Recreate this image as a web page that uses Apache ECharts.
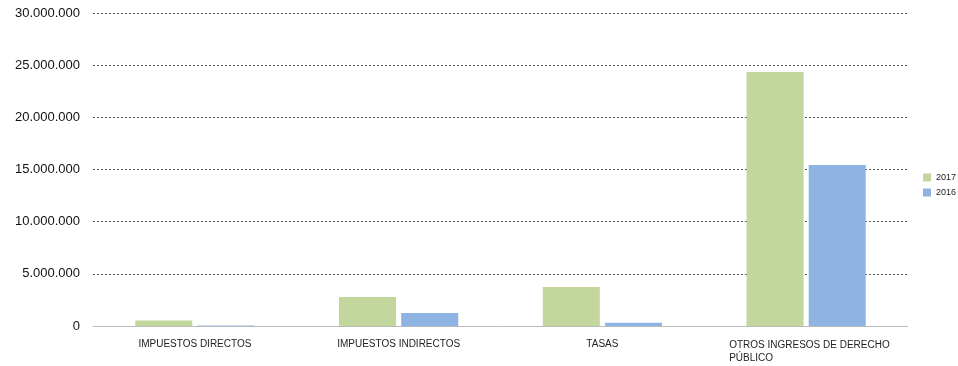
<!DOCTYPE html>
<html>
<head>
<meta charset="utf-8">
<script src="https://cdn.jsdelivr.net/npm/echarts@6/dist/echarts.min.js"></script>
<style>
  html, body { margin: 0; padding: 0; background: #fff; }
  #chart { width: 958px; height: 366px; }
</style>
</head>
<body>
<div id="chart"></div>
<script>
// categorias y valores
const categories = ['IMPUESTOS DIRECTOS', 'IMPUESTOS INDIRECTOS', 'TASAS', 'OTROS INGRESOS DE DERECHO PÚBLICO']
const values2017 = [520000, 2780000, 3740000, 24350000]
const values2016 = [50000, 1250000, 300000, 15440000]
const yTicks = [0, 5000000, 10000000, 15000000, 20000000, 25000000, 30000000]

const myChart = echarts.init(document.getElementById('chart'))

function fmt(val) {
  return String(val).replace(/\B(?=(\d{3})+(?!\d))/g, '.')
}

const option = {
  animation: false,
  textStyle: { fontFamily: 'Liberation Sans, Arial, sans-serif' },
  color: ['#C3D69B', '#8EB4E3'],
  legend: {
    orient: 'vertical',
    left: 918,
    top: 168,
    icon: 'rect',
    itemWidth: 8,
    itemHeight: 8,
    itemGap: 6,
    textStyle: { fontSize: 9, color: '#222' },
    data: ['2017', '2016']
  },
  grid: {
    left: 93,
    right: 50,
    top: 13,
    bottom: 40
  },
  xAxis: {
    type: 'category',
    data: categories,
    axisLine: { lineStyle: { color: '#bbb' } },
    axisTick: { length: 5, lineStyle: { color: '#bbb' } },
    axisLabel: {
      color: '#222',
      fontSize: 10,
      margin: 13,
      interval: 0,
      formatter(val) {
        if (val.length > 25) {
          return '{a|OTROS INGRESOS DE DERECHO}\n{a|PÚBLICO}'
        }
        return val
      },
      rich: {
        a: { width: 154, align: 'left', fontSize: 10, color: '#222', lineHeight: 13 }
      }
    }
  },
  yAxis: {
    type: 'value',
    min: 0,
    max: 30000000,
    interval: 5000000,
    axisLine: { show: false },
    axisTick: { show: false },
    splitLine: { lineStyle: { color: '#555', type: [2, 2], width: 1 } },
    axisLabel: {
      color: '#111',
      fontSize: 13,
      margin: 13,
      formatter(val) {
        return yTicks.indexOf(val) >= 0 ? fmt(val) : ''
      }
    }
  },
  series: [
    {
      name: '2017',
      type: 'bar',
      barWidth: '28%',
      barGap: '9%',
      data: values2017
    },
    {
      name: '2016',
      type: 'bar',
      barWidth: '28%',
      data: values2016
    }
  ]
}

myChart.setOption(option)
</script>
</body>
</html>
